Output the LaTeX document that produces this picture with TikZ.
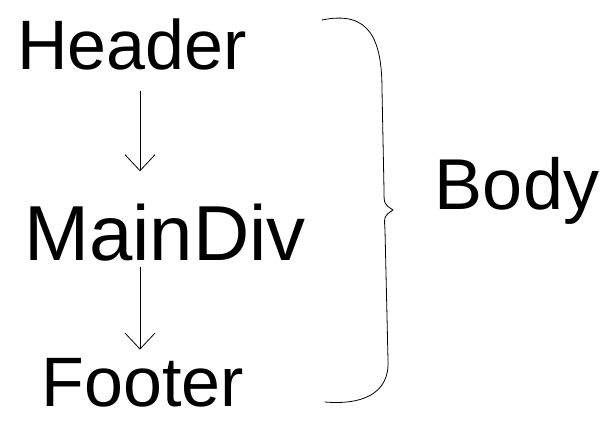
\documentclass[tikz,border=0pt]{standalone}
\usepackage{fontspec}
\setmainfont{Liberation Sans}
\usepackage{tikz}
\usetikzlibrary{arrows.meta}
\tikzstyle{part}=[font=\fontsize{70}{70}\selectfont,inner sep=2pt,anchor=base]
\tikzstyle{arr} = [draw,thick,-{Straight Barb[length=16pt,width=30pt]}]
\tikzstyle{brace} = [draw,thick,line cap=round]

\begin{document}
\begin{tikzpicture}[x=1pt,y=-1pt]
    \useasboundingbox (0,0) rectangle (610,422);
    \foreach \pos/\name/\val/\size in {{(132,70)/header/Header/70}, {(165,260)/maindiv/MainDiv/78},
    {(143,406)/footer/Footer/70}, {(517,210)/body/Body/72}}
        \node[part,font=\fontsize{\size}{\size}\selectfont] (\name) at \pos {\val};
    \foreach \source/\dest/\shift/\a/\b in {header/maindiv/8/18/30, maindiv/footer/-25/4/6}
        \path[arr,shorten <=\a pt,shorten >=\b pt] ([xshift=\shift pt]\source.south)
            -- ([xshift=\shift pt]\source.south |- \dest.north);
    % the brace round the three parts
    \path[brace] (322,20) .. controls (370,10) and (382,40) .. (382,90)
        -- (384,190) .. controls (384,204) .. (393,210)
        .. controls (384,216) .. (385,230)
        -- (388,360) .. controls (390,395) and (360,405) .. (325,402);
\end{tikzpicture}
\end{document}
